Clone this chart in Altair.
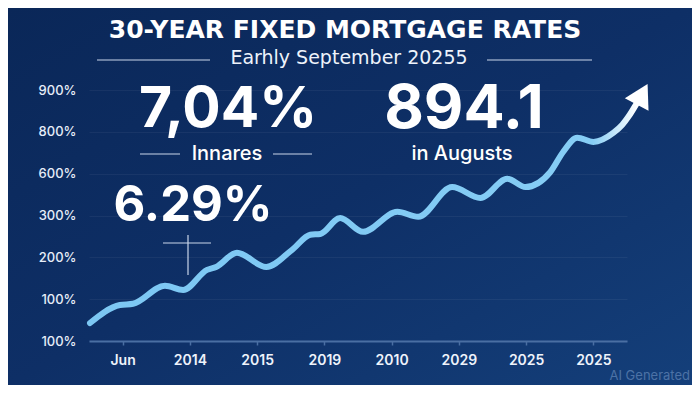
import altair as alt
import pandas as pd

# ---- data ----
x_vals = [0.03, 0.92, 1.31, 2.26, 2.80, 3.51, 3.78, 4.40, 5.27, 6.04, 6.58, 6.88, 7.47,
          8.15, 9.17, 9.79, 10.80, 11.64, 12.44, 12.98, 13.72, 14.10, 14.52, 15.00,
          15.60, 15.86, 16.04, 16.28]
y_vals = [0.43, 0.86, 0.89, 1.32, 1.22, 1.70, 1.77, 2.11, 1.77, 2.18, 2.54, 2.56, 2.94,
          2.61, 3.09, 2.97, 3.68, 3.42, 3.88, 3.68, 4.04, 4.52, 4.86, 4.76,
          4.98, 5.17, 5.36, 5.67]
arrow_x = [16.45]
arrow_y = [5.90]

x_ticks = list(range(1, 16))
x_labels = ["Jun", "2014", "2015", "2019", "2010", "2029", "2025", "2025"]
y_ticks = [0, 1, 2, 3, 4, 5, 6]
y_labels = ["100%", "100%", "200%", "300%", "600%", "800%", "900%"]

title_text = "30-YEAR FIXED MORTGAGE RATES"
subtitle_text = "Earhly September 20255"
big_labels = ["7,04%", "894.1", "6.29%"]
small_labels = ["Innares", "in Augusts"]
watermark = "AI Generated"

W, H = 538, 266
PL, PT, PR, PB = 81, 67, 65, 44
FONT = "Inter"
WIDE = "DejaVu Sans"

line_df = pd.DataFrame({"x": x_vals, "y": y_vals})
arrow_df = pd.DataFrame({"x": arrow_x, "y": arrow_y})
one = pd.DataFrame({"a": [0]})

x_label_expr = "datum.value % 2 == 1 ? [" + ",".join("'%s'" % s for s in x_labels) + "][(datum.value - 1) / 2] : ''"
y_label_expr = "[" + ",".join("'%s'" % s for s in y_labels) + "][datum.value]"

x_scale = alt.Scale(domain=[0, 16], nice=False, zero=False)
y_scale = alt.Scale(domain=[0, 6.36], nice=False, zero=False)

x_enc = alt.X("x:Q", scale=x_scale, axis=alt.Axis(
    values=x_ticks, labelExpr=x_label_expr, title=None, grid=False,
    domainColor="#4a6fa3", domainWidth=2, tickColor="#4a6fa3", tickWidth=1.5, tickSize=4,
    labelColor="#eef3fb", labelFont=FONT, labelFontSize=14, labelFontWeight=600,
    labelPadding=8, labelOverlap=False, zindex=1))
y_enc = alt.Y("y:Q", scale=y_scale, axis=alt.Axis(
    values=y_ticks, labelExpr=y_label_expr, title=None, grid=True,
    gridColor="#ffffff", gridOpacity=0.05, domain=False, ticks=False,
    labelColor="#e6edf8", labelFont=FONT, labelFontSize=13, labelFontWeight=500,
    labelPadding=13, zindex=1))

bg = alt.Chart(one).mark_rect(fill={
    "gradient": "linear", "x1": 0, "y1": 0, "x2": 1, "y2": 1,
    "stops": [{"offset": 0, "color": "#0a2758"},
              {"offset": 0.5, "color": "#0e2f66"},
              {"offset": 1, "color": "#143f7a"}]}).encode(
    x=alt.value(-PL), x2=alt.value(W + PR), y=alt.value(-PT), y2=alt.value(H + PB))

line = alt.Chart(line_df).mark_line(
    interpolate="monotone", strokeWidth=6, strokeCap="round", strokeJoin="round",
    stroke={"gradient": "linear", "x1": 0, "y1": 0, "x2": 1, "y2": 0,
            "stops": [{"offset": 0, "color": "#7cc7f3"},
                      {"offset": 0.92, "color": "#86cdf5"},
                      {"offset": 1, "color": "#ffffff"}]}
).encode(x=x_enc, y=y_enc)

arrow = alt.Chart(arrow_df).mark_point(
    shape="triangle-up", filled=True, color="white", opacity=1, size=720, angle=28
).encode(x="x:Q", y="y:Q")

def txt(s, px, py, size, weight="bold", color="white", align="center", font=FONT):
    return alt.Chart(one).mark_text(
        text=s, font=font, fontSize=size, fontWeight=weight, color=color,
        align=align, baseline="middle").encode(x=alt.value(px), y=alt.value(py))

def seg(x1, x2, y, color="#c9d6ea", width=1.2):
    return alt.Chart(one).mark_rule(color=color, strokeWidth=width).encode(
        x=alt.value(x1), x2=alt.value(x2), y=alt.value(y))

def vseg(x, y1, y2, color="#c9d6ea", width=1.2):
    return alt.Chart(one).mark_rule(color=color, strokeWidth=width).encode(
        x=alt.value(x), y=alt.value(y1), y2=alt.value(y2))

annos = [
    txt(title_text, 256, -45, 25, font=WIDE),
    txt(subtitle_text, 260, -17, 19, weight="normal", color="#eef3fb", font=WIDE),
    txt(big_labels[0], 139, 35, 57),
    txt(big_labels[1], 375, 35, 61),
    txt(big_labels[2], 104, 131, 49),
    txt(small_labels[0], 138, 79, 20, weight=500),
    txt(small_labels[1], 373, 79, 20, weight=500),
    txt(watermark, 601, 301, 13, weight=400, color="#4c72a6", align="right"),
    seg(51, 91, 79), seg(184, 223, 79),
    seg(8, 121, -15), seg(398, 503, -15),
    seg(74, 122, 168), vseg(99, 160, 200),
]

chart = alt.layer(bg, line, arrow, *annos).properties(
    width=W, height=H,
    autosize=alt.AutoSizeParams(type="none"),
    padding={"left": PL, "top": PT, "right": PR, "bottom": PB},
    background="#0c2a5e",
).configure_view(stroke=None)

chart.save("out.html", embed_options={"renderer": "svg", "actions": False})
